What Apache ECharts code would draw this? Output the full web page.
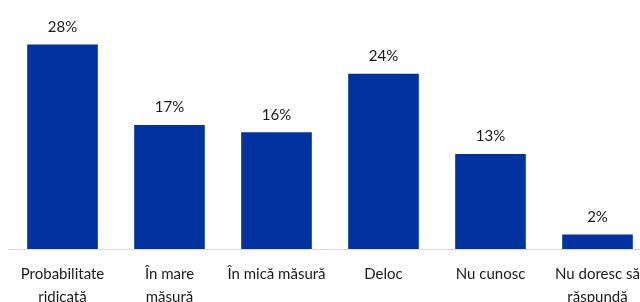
<!DOCTYPE html>
<html>
<head>
<meta charset="utf-8">
<script src="https://cdn.jsdelivr.net/npm/echarts@6/dist/echarts.min.js"></script>
<style>html,body{margin:0;padding:0;background:#fff;overflow:hidden}#c{width:640px;height:302px}</style>
</head>
<body>
<div id="c"></div>
<script>
const categories = ["Probabilitate\nridicată", "În mare\nmăsură", "În mică măsură", "Deloc", "Nu cunosc", "Nu doresc să\nrăspundă"];
const values = [28, 17, 16, 24, 13, 2];

const chart = echarts.init(document.getElementById('c'), null, {renderer: 'canvas'});
chart.setOption({
  animation: false,
  grid: {left: 9, right: -11, top: 30, bottom: 53, containLabel: false, outerBoundsMode: 'none'},
  xAxis: {
    type: 'category',
    data: categories,
    axisLine: {show: true, lineStyle: {color: '#d9d9d9', width: 1}},
    axisTick: {show: false},
    axisLabel: {color: '#1a1a1a', fontFamily: 'Lato', fontSize: 15, margin: 14, lineHeight: 23, interval: 0, hideOverlap: false}
  },
  yAxis: {
    type: 'value', min: 0, max: 30,
    show: false, splitLine: {show: false}
  },
  series: [{
    type: 'bar',
    data: values,
    barWidth: '66%',
    itemStyle: {color: '#0033A0'},
    label: {show: true, position: 'top', distance: 10, formatter: '{c}%', color: '#1a1a1a', fontFamily: 'Lato', fontSize: 15}
  }]
});
</script>
</body>
</html>
